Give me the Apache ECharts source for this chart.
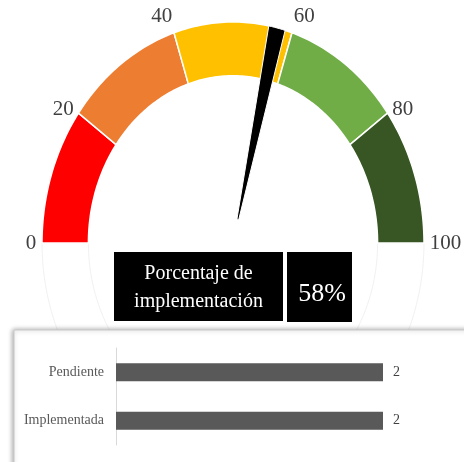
<!DOCTYPE html>
<html>
<head>
<meta charset="utf-8">
<script src="https://cdn.jsdelivr.net/npm/echarts@6/dist/echarts.min.js"></script>
<style>html,body{margin:0;padding:0;background:#fff;}#c{width:464px;height:462px;}</style>
</head>
<body>
<div id="c"></div>
<script>
// ---- data ----
const gaugeTicks = [0, 20, 40, 60, 80, 100];
const bandColors = ['#FF0000', '#ED7D31', '#FFC000', '#70AD47', '#375623'];
const hiddenHalf = [[100, 200]]; // invisible lower half of the Excel donut
const pointerSlices = [56, 2.8, 41.2]; // hidden, needle, hidden
const implementationPct = 58;
const boxTitle = 'Porcentaje de\nimplementación';
const barCategories = ['Pendiente', 'Implementada'];
const barValues = [2, 2];

// ---- build ----
const INNER = 0.757, OUTER = 1.0;
const bandData = bandColors.map((c, i) => [gaugeTicks[i], gaugeTicks[i + 1]]);
const needleData = [[pointerSlices[0], pointerSlices[0] + pointerSlices[1]]];
const tickData = gaugeTicks.map(t => [t, 0]);

function pt(api, r, v) {
  const th = Math.PI * (1 - v / 100);
  return api.coord([r * Math.cos(th), r * Math.sin(th)]);
}
function ring(api, r0, r1, v0, v1) {
  const n = Math.max(4, Math.ceil(Math.abs(v1 - v0) * 2));
  const pts = [];
  for (let i = 0; i <= n; i++) pts.push(pt(api, r1, v0 + (v1 - v0) * i / n));
  for (let i = n; i >= 0; i--) pts.push(pt(api, r0, v0 + (v1 - v0) * i / n));
  return pts;
}

const chart = echarts.init(document.getElementById('c'));
const serif = '"Liberation Serif", "Times New Roman", serif';
const option = {
  animation: false,
  grid: [
    { left: 42, right: 40, top: 22, bottom: 219 },
    { left: 116, right: 81, top: 348, bottom: 17 }
  ],
  xAxis: [
    { gridIndex: 0, type: 'value', min: -1, max: 1, show: false },
    { gridIndex: 1, type: 'value', min: 0, max: 2, show: false }
  ],
  yAxis: [
    { gridIndex: 0, type: 'value', min: 0, max: 1, show: false },
    {
      gridIndex: 1, type: 'category', data: barCategories, inverse: true, z: 10,
      axisLine: { lineStyle: { color: '#d9d9d9' } },
      axisTick: { length: 4, lineStyle: { color: '#d9d9d9' } },
      axisLabel: { color: '#595959', fontFamily: serif, fontSize: 14, margin: 12 }
    }
  ],
  graphic: [
    { type: 'rect', z: 2, shape: { x: 14, y: 330, width: 470, height: 150 },
      style: { fill: '#fff', stroke: '#c8c8c8', lineWidth: 1, shadowBlur: 5, shadowColor: 'rgba(0,0,0,0.35)', shadowOffsetX: -1, shadowOffsetY: 0 } },
    { type: 'rect', z: 100, shape: { x: 114, y: 252, width: 169, height: 69 }, style: { fill: '#000' } },
    { type: 'rect', z: 100, shape: { x: 287, y: 252, width: 65, height: 70 }, style: { fill: '#000' } },
    { type: 'text', z: 101, x: 198.5, y: 288,
      style: { text: boxTitle, fill: '#fff', font: '20px ' + serif, align: 'center', verticalAlign: 'middle', lineHeight: 28 } },
    { type: 'text', z: 101, x: 322, y: 294,
      style: { text: implementationPct + '%', fill: '#fff', font: '26px ' + serif, align: 'center', verticalAlign: 'middle' } }
  ],
  series: [
    {
      type: 'custom', xAxisIndex: 0, yAxisIndex: 0, clip: false, z: 1,
      data: hiddenHalf,
      renderItem: function (params, api) {
        return {
          type: 'polygon',
          shape: { points: ring(api, INNER, OUTER, api.value(0), api.value(1)) },
          style: { fill: '#fff', stroke: '#f0f0f0', lineWidth: 1 }
        };
      }
    },
    {
      type: 'custom', xAxisIndex: 0, yAxisIndex: 0, clip: false, z: 3,
      data: bandData,
      renderItem: function (params, api) {
        return {
          type: 'polygon',
          shape: { points: ring(api, INNER, OUTER, api.value(0), api.value(1)) },
          style: { fill: bandColors[params.dataIndex], stroke: '#fff', lineWidth: 1.5 }
        };
      }
    },
    {
      type: 'custom', xAxisIndex: 0, yAxisIndex: 0, clip: false, z: 4,
      data: needleData,
      renderItem: function (params, api) {
        return {
          type: 'polygon',
          shape: { points: ring(api, 0.11, OUTER, api.value(0), api.value(1)) },
          style: { fill: '#000', stroke: '#fff', lineWidth: 1 }
        };
      }
    },
    {
      type: 'custom', xAxisIndex: 0, yAxisIndex: 0, clip: false, z: 5,
      data: tickData,
      renderItem: function (params, api) {
        const v = api.value(0);
        const th = Math.PI * (1 - v / 100);
        const c = Math.cos(th), s = Math.sin(th);
        const p = pt(api, 1.03, v);
        return {
          type: 'text', x: p[0], y: p[1],
          style: {
            text: String(v), fill: '#404040', font: '21px ' + serif,
            align: c < -0.2 ? 'right' : (c > 0.2 ? 'left' : 'center'),
            verticalAlign: s > 0.9 ? 'bottom' : 'middle'
          }
        };
      }
    },
    {
      type: 'bar', xAxisIndex: 1, yAxisIndex: 1, z: 10,
      data: barValues, barWidth: 18,
      itemStyle: { color: '#595959' },
      label: { show: true, position: 'right', distance: 10, color: '#404040', fontFamily: serif, fontSize: 14 }
    }
  ]
};
chart.setOption(option);
</script>
</body>
</html>
